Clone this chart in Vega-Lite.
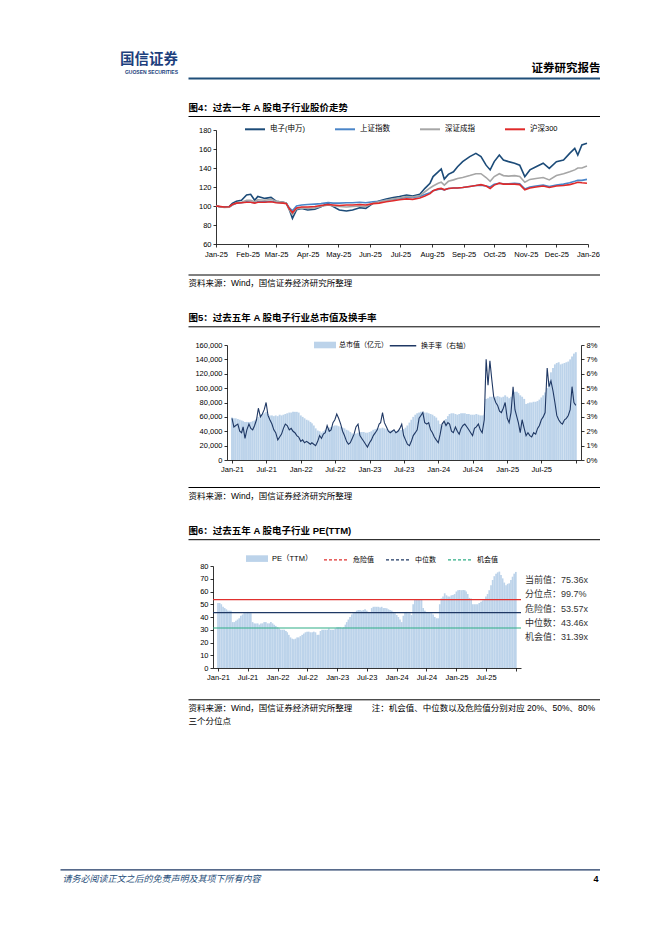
{
"$schema": "https://vega.github.io/schema/vega-lite/v6.json",
"background": "white",
"padding": {"left": 60, "top": 51, "right": 0, "bottom": 0},
"spacing": 0,
"resolve": {"scale": {"color": "independent", "fill": "independent", "stroke": "independent"}, "legend": {"color": "independent", "fill": "independent", "stroke": "independent"}},
"config": {
  "view": {"stroke": null},
  "font": "Liberation Sans, Noto Sans CJK SC",
  "axis": {"labelFont": "Liberation Sans, Noto Sans CJK SC", "labelFontSize": 7.5, "labelColor": "#000", "domainColor": "#000", "domainWidth": 0.8, "tickColor": "#000", "tickSize": 3, "tickWidth": 0.8, "labelPadding": 2, "grid": false, "titleFont": "Liberation Sans, Noto Sans CJK SC", "titleColor": "#000", "titleFontWeight": "normal"},
  "legend": {"labelFont": "Liberation Sans, Noto Sans CJK SC", "labelColor": "#000", "padding": 0, "labelFontSize": 7},
  "title": {"font": "Liberation Sans, Noto Sans CJK SC"}
},
"datasets": {
"c1": [
{"d":"2025/01/01","电子(申万)":100,"上证指数":100,"深证成指":100,"沪深300":100},
{"d":"2025/01/04","电子(申万)":99.5,"上证指数":99.5,"深证成指":99.5,"沪深300":99.6},
{"d":"2025/01/09","电子(申万)":99,"上证指数":98.8,"深证成指":98.5,"沪深300":99},
{"d":"2025/01/14","电子(申万)":99.5,"上证指数":99,"深证成指":98.7,"沪深300":99.2},
{"d":"2025/01/17","电子(申万)":102.8,"上证指数":101,"深证成指":101,"沪深300":101.5},
{"d":"2025/01/21","电子(申万)":105,"上证指数":103,"深证成指":103.5,"沪深300":103},
{"d":"2025/01/26","电子(申万)":106,"上证指数":103.5,"深证成指":104,"沪深300":103.5},
{"d":"2025/01/31","电子(申万)":111.6,"上证指数":104.5,"深证成指":106,"沪深300":104},
{"d":"2025/02/04","电子(申万)":112.3,"上证指数":104,"深证成指":106,"沪深300":104},
{"d":"2025/02/08","电子(申万)":106,"上证指数":103.5,"深证成指":104.5,"沪深300":103},
{"d":"2025/02/11","电子(申万)":110,"上证指数":104.5,"深证成指":106.5,"沪深300":104},
{"d":"2025/02/18","电子(申万)":108,"上证指数":104.5,"深证成指":106,"沪深300":104},
{"d":"2025/02/24","电子(申万)":109,"上证指数":105,"深证成指":107,"沪深300":104.5},
{"d":"2025/03/01","电子(申万)":105,"上证指数":104,"深证成指":105,"沪深300":103.5},
{"d":"2025/03/08","电子(申万)":104,"上证指数":103.5,"深证成指":104,"沪深300":103},
{"d":"2025/03/11","电子(申万)":103,"上证指数":103,"深证成指":103,"沪深300":102.5},
{"d":"2025/03/14","电子(申万)":96,"上证指数":98,"深证成指":96,"沪深300":97},
{"d":"2025/03/17","电子(申万)":87,"上证指数":95,"深证成指":91,"沪深300":93},
{"d":"2025/03/21","电子(申万)":96,"上证指数":100,"深证成指":97,"沪深300":98},
{"d":"2025/03/26","电子(申万)":97.5,"上证指数":101,"深证成指":98,"沪深300":99},
{"d":"2025/04/01","电子(申万)":95.8,"上证指数":101.5,"深证成指":97.5,"沪深300":99},
{"d":"2025/04/08","电子(申万)":96.5,"上证指数":102,"深证成指":98,"沪深300":99.5},
{"d":"2025/04/14","电子(申万)":99.3,"上证指数":102.5,"深证成指":99.5,"沪深300":100.5},
{"d":"2025/04/21","电子(申万)":102.8,"上证指数":103.5,"深证成指":101,"沪深300":101.5},
{"d":"2025/04/26","电子(申万)":99.3,"上证指数":103,"深证成指":100,"沪深300":101},
{"d":"2025/05/02","电子(申万)":95.8,"上证指数":103,"深证成指":99.5,"沪深300":100.5},
{"d":"2025/05/09","电子(申万)":94.7,"上证指数":103.5,"深证成指":99,"沪深300":101},
{"d":"2025/05/15","电子(申万)":95.8,"上证指数":103.5,"深证成指":99.5,"沪深300":101},
{"d":"2025/05/22","电子(申万)":98.2,"上证指数":104,"深证成指":100,"沪深300":101.5},
{"d":"2025/05/28","电子(申万)":97.5,"上证指数":103.5,"深证成指":99.5,"沪深300":101},
{"d":"2025/06/04","电子(申万)":102.8,"上证指数":104.5,"深证成指":103,"沪深300":102.5},
{"d":"2025/06/10","电子(申万)":105.3,"上证指数":105,"深证成指":104.5,"沪深300":103},
{"d":"2025/06/17","电子(申万)":107.4,"上证指数":106,"深证成指":106,"沪深300":104.5},
{"d":"2025/06/24","电子(申万)":108.8,"上证指数":107,"深证成指":107.5,"沪深300":105.5},
{"d":"2025/06/30","电子(申万)":110,"上证指数":108,"深证成指":108.5,"沪深300":106.5},
{"d":"2025/07/07","电子(申万)":111.6,"上证指数":109,"深证成指":110,"沪深300":107.5},
{"d":"2025/07/13","电子(申万)":110.5,"上证指数":109,"深证成指":109.5,"沪深300":107},
{"d":"2025/07/20","电子(申万)":112.3,"上证指数":110,"深证成指":111,"沪深300":108.5},
{"d":"2025/07/25","电子(申万)":118.6,"上证指数":112,"深证成指":115,"沪深300":110.5},
{"d":"2025/07/30","电子(申万)":124,"上证指数":114,"深证成指":119,"沪深300":113},
{"d":"2025/08/02","电子(申万)":131,"上证指数":116,"深证成指":121,"沪深300":116},
{"d":"2025/08/07","电子(申万)":136,"上证指数":117.5,"深证成指":124,"沪深300":118},
{"d":"2025/08/10","电子(申万)":139,"上证指数":118,"深证成指":125,"沪深300":118.5},
{"d":"2025/08/13","电子(申万)":128.4,"上证指数":117,"深证成指":122,"沪深300":117},
{"d":"2025/08/17","电子(申万)":133.3,"上证指数":118.5,"深证成指":126,"沪深300":118.5},
{"d":"2025/08/22","电子(申万)":136,"上证指数":119,"深证成指":127.5,"沪深300":119},
{"d":"2025/08/26","电子(申万)":141.4,"上证指数":119,"深证成指":129,"沪深300":119},
{"d":"2025/08/31","电子(申万)":146.7,"上证指数":119.5,"深证成指":130,"沪深300":119.5},
{"d":"2025/09/07","电子(申万)":152,"上证指数":120.5,"深证成指":132,"沪深300":120.5},
{"d":"2025/09/13","电子(申万)":155.4,"上证指数":121.5,"深证成指":134,"沪深300":121.5},
{"d":"2025/09/18","电子(申万)":152,"上证指数":122,"深证成指":134,"沪深300":122.5},
{"d":"2025/09/23","电子(申万)":143,"上证指数":121,"深证成指":130,"沪深300":121},
{"d":"2025/09/27","电子(申万)":138,"上证指数":120,"深证成指":126,"沪深300":118.5},
{"d":"2025/10/01","电子(申万)":146.7,"上证指数":123,"深证成指":131,"沪深300":122},
{"d":"2025/10/06","电子(申万)":153.7,"上证指数":124,"深证成指":134,"沪深300":124},
{"d":"2025/10/10","电子(申万)":148.4,"上证指数":123.5,"深证成指":132,"沪深300":123},
{"d":"2025/10/15","电子(申万)":146.7,"上证指数":123.5,"深证成指":131.5,"沪深300":123},
{"d":"2025/10/21","电子(申万)":145,"上证指数":124,"深证成指":132,"沪深300":123},
{"d":"2025/10/26","电子(申万)":143,"上证指数":123.5,"深证成指":131,"沪深300":122.5},
{"d":"2025/10/31","电子(申万)":130.9,"上证指数":118,"深证成指":125,"沪深300":117},
{"d":"2025/11/05","电子(申万)":138,"上证指数":120,"深证成指":128,"沪深300":119},
{"d":"2025/11/11","电子(申万)":141.4,"上证指数":121,"深证成指":129,"沪深300":120},
{"d":"2025/11/18","电子(申万)":145,"上证指数":122,"深证成指":130,"沪深300":121},
{"d":"2025/11/24","电子(申万)":139.6,"上证指数":120.5,"深证成指":127.5,"沪深300":119.5},
{"d":"2025/12/01","电子(申万)":146.7,"上证指数":122,"深证成指":132,"沪深300":121},
{"d":"2025/12/08","电子(申万)":148.4,"上证指数":123,"深证成指":134,"沪深300":121.5},
{"d":"2025/12/14","电子(申万)":155.4,"上证指数":124.5,"深证成指":136,"沪深300":122.5},
{"d":"2025/12/19","电子(申万)":160.7,"上证指数":126,"深证成指":138,"沪深300":124},
{"d":"2025/12/22","电子(申万)":153.7,"上证指数":127,"深证成指":140,"沪深300":125},
{"d":"2025/12/26","电子(申万)":164.2,"上证指数":127,"深证成指":140,"沪深300":124.5},
{"d":"2025/12/31","电子(申万)":166,"上证指数":128,"深证成指":142,"沪深300":124}
],
"ts": [
{"d":"2021/01/01","m":59000,"t":2.9,"pe":51},{"d":"2021/01/11","m":58000,"t":2.3,"pe":51},{"d":"2021/01/21","m":58000,"t":2.4,"pe":50},
{"d":"2021/02/01","m":57000,"t":2.5,"pe":48},{"d":"2021/02/11","m":56000,"t":2.0,"pe":47},{"d":"2021/02/21","m":55000,"t":1.9,"pe":46},
{"d":"2021/03/01","m":54000,"t":2.3,"pe":45},{"d":"2021/03/11","m":53000,"t":1.5,"pe":45},{"d":"2021/03/21","m":53000,"t":2.1,"pe":45},
{"d":"2021/04/01","m":53000,"t":2.5,"pe":36},{"d":"2021/04/11","m":53000,"t":2.2,"pe":36},{"d":"2021/04/21","m":54000,"t":2.1,"pe":37},
{"d":"2021/05/01","m":55000,"t":2.4,"pe":38},{"d":"2021/05/11","m":57000,"t":2.8,"pe":39},{"d":"2021/05/21","m":60000,"t":3.6,"pe":41},
{"d":"2021/06/01","m":63000,"t":3.0,"pe":42},{"d":"2021/06/11","m":64000,"t":3.2,"pe":43},{"d":"2021/06/21","m":65000,"t":3.5,"pe":43},
{"d":"2021/07/01","m":67000,"t":4.0,"pe":44},{"d":"2021/07/11","m":64000,"t":3.1,"pe":43},{"d":"2021/07/21","m":62000,"t":2.8,"pe":43},
{"d":"2021/08/01","m":62000,"t":2.5,"pe":36},{"d":"2021/08/11","m":61000,"t":2.1,"pe":35},{"d":"2021/08/21","m":62000,"t":1.9,"pe":35},
{"d":"2021/09/01","m":61000,"t":1.4,"pe":35},{"d":"2021/09/11","m":63000,"t":1.6,"pe":34},{"d":"2021/09/21","m":62000,"t":1.8,"pe":35},
{"d":"2021/10/01","m":63000,"t":2.2,"pe":35},{"d":"2021/10/11","m":64000,"t":2.5,"pe":36},{"d":"2021/10/21","m":65000,"t":2.4,"pe":36},
{"d":"2021/11/01","m":66000,"t":2.1,"pe":35},{"d":"2021/11/11","m":66000,"t":2.2,"pe":35},{"d":"2021/11/21","m":67000,"t":2.0,"pe":36},
{"d":"2021/12/01","m":67000,"t":1.9,"pe":35},{"d":"2021/12/11","m":67000,"t":1.7,"pe":34},{"d":"2021/12/21","m":66000,"t":1.6,"pe":33},
{"d":"2022/01/01","m":62000,"t":1.3,"pe":32},{"d":"2022/01/11","m":60000,"t":1.4,"pe":31},{"d":"2022/01/21","m":58000,"t":1.2,"pe":30},
{"d":"2022/02/01","m":56000,"t":1.3,"pe":30},{"d":"2022/02/11","m":55000,"t":1.2,"pe":30},{"d":"2022/02/21","m":53000,"t":1.1,"pe":29},
{"d":"2022/03/01","m":51000,"t":1.2,"pe":28},{"d":"2022/03/11","m":48000,"t":1.1,"pe":26},{"d":"2022/03/21","m":44000,"t":1.0,"pe":24},
{"d":"2022/04/01","m":41000,"t":1.3,"pe":23},{"d":"2022/04/11","m":40000,"t":1.7,"pe":22.5},{"d":"2022/04/21","m":38000,"t":1.5,"pe":23},
{"d":"2022/05/01","m":40000,"t":1.8,"pe":24},{"d":"2022/05/11","m":42000,"t":1.9,"pe":24},{"d":"2022/05/21","m":44000,"t":2.4,"pe":25},
{"d":"2022/06/01","m":45000,"t":2.0,"pe":26},{"d":"2022/06/11","m":46000,"t":2.1,"pe":27},{"d":"2022/06/21","m":47000,"t":2.6,"pe":28},
{"d":"2022/07/01","m":48000,"t":2.8,"pe":28.5},{"d":"2022/07/11","m":48000,"t":3.2,"pe":28.5},{"d":"2022/07/21","m":47000,"t":2.9,"pe":28},
{"d":"2022/08/01","m":46000,"t":2.5,"pe":28},{"d":"2022/08/11","m":45000,"t":2.0,"pe":28.5},{"d":"2022/08/21","m":44000,"t":1.7,"pe":28},
{"d":"2022/09/01","m":42000,"t":1.3,"pe":26},{"d":"2022/09/11","m":41000,"t":1.1,"pe":26},{"d":"2022/09/21","m":39000,"t":1.2,"pe":29},
{"d":"2022/10/01","m":37000,"t":1.5,"pe":30},{"d":"2022/10/11","m":36000,"t":1.8,"pe":30},{"d":"2022/10/21","m":37000,"t":2.3,"pe":30},
{"d":"2022/11/01","m":38000,"t":2.5,"pe":30},{"d":"2022/11/11","m":39000,"t":1.7,"pe":31},{"d":"2022/11/21","m":39000,"t":1.5,"pe":30},
{"d":"2022/12/01","m":39000,"t":1.3,"pe":30},{"d":"2022/12/11","m":38000,"t":1.1,"pe":30},{"d":"2022/12/21","m":38000,"t":0.9,"pe":31},
{"d":"2023/01/01","m":39000,"t":1.2,"pe":32},{"d":"2023/01/11","m":40000,"t":1.4,"pe":32},{"d":"2023/01/21","m":42000,"t":1.7,"pe":32},
{"d":"2023/02/01","m":43000,"t":1.9,"pe":31.6},{"d":"2023/02/11","m":44000,"t":2.1,"pe":32},{"d":"2023/02/21","m":44000,"t":2.5,"pe":34},
{"d":"2023/03/01","m":44000,"t":2.6,"pe":36},{"d":"2023/03/11","m":45000,"t":3.3,"pe":38},{"d":"2023/03/21","m":44000,"t":2.6,"pe":40},
{"d":"2023/04/01","m":43000,"t":2.3,"pe":42},{"d":"2023/04/11","m":42000,"t":2.0,"pe":43},{"d":"2023/04/21","m":41000,"t":1.9,"pe":44},
{"d":"2023/05/01","m":41000,"t":2.0,"pe":45},{"d":"2023/05/11","m":41000,"t":2.1,"pe":45.5},{"d":"2023/05/21","m":40000,"t":1.9,"pe":45.5},
{"d":"2023/06/01","m":41000,"t":2.0,"pe":45},{"d":"2023/06/11","m":42000,"t":2.2,"pe":45.5},{"d":"2023/06/21","m":42000,"t":2.5,"pe":46},
{"d":"2023/07/01","m":43000,"t":1.7,"pe":45},{"d":"2023/07/11","m":45000,"t":1.4,"pe":44},{"d":"2023/07/21","m":48000,"t":1.1,"pe":44},
{"d":"2023/08/01","m":52000,"t":1.0,"pe":47},{"d":"2023/08/11","m":56000,"t":1.3,"pe":48},{"d":"2023/08/21","m":60000,"t":1.7,"pe":48},
{"d":"2023/09/01","m":63000,"t":1.9,"pe":48},{"d":"2023/09/11","m":65000,"t":2.1,"pe":48},{"d":"2023/09/21","m":66000,"t":2.9,"pe":47.5},
{"d":"2023/10/01","m":67000,"t":3.1,"pe":48},{"d":"2023/10/11","m":67000,"t":3.3,"pe":47},{"d":"2023/10/21","m":66000,"t":2.6,"pe":47},
{"d":"2023/11/01","m":66000,"t":2.5,"pe":46.8},{"d":"2023/11/11","m":65000,"t":2.6,"pe":46},{"d":"2023/11/21","m":64000,"t":2.1,"pe":45.5},
{"d":"2023/12/01","m":63000,"t":1.9,"pe":45},{"d":"2023/12/11","m":61000,"t":1.6,"pe":44},{"d":"2023/12/21","m":59000,"t":1.4,"pe":43},
{"d":"2024/01/01","m":55000,"t":1.2,"pe":41.6},{"d":"2024/01/11","m":50000,"t":1.8,"pe":40},{"d":"2024/01/21","m":48000,"t":2.5,"pe":38},
{"d":"2024/02/01","m":52000,"t":2.7,"pe":36},{"d":"2024/02/11","m":57000,"t":2.4,"pe":41},{"d":"2024/02/21","m":61000,"t":2.6,"pe":44},
{"d":"2024/03/01","m":64000,"t":2.5,"pe":44},{"d":"2024/03/11","m":65000,"t":2.0,"pe":43},{"d":"2024/03/21","m":65000,"t":1.9,"pe":43},
{"d":"2024/04/01","m":64000,"t":2.3,"pe":41.5},{"d":"2024/04/11","m":63000,"t":2.0,"pe":50},{"d":"2024/04/21","m":64000,"t":1.8,"pe":54},
{"d":"2024/05/01","m":65000,"t":2.2,"pe":54},{"d":"2024/05/11","m":65000,"t":2.4,"pe":54},{"d":"2024/05/21","m":65000,"t":2.5,"pe":53.5},
{"d":"2024/06/01","m":64000,"t":2.3,"pe":54},{"d":"2024/06/11","m":64000,"t":2.1,"pe":47},{"d":"2024/06/21","m":63000,"t":1.9,"pe":45},
{"d":"2024/07/01","m":63000,"t":1.7,"pe":44},{"d":"2024/07/11","m":63000,"t":2.2,"pe":44},{"d":"2024/07/21","m":64000,"t":2.3,"pe":43.5},
{"d":"2024/08/01","m":63000,"t":2.5,"pe":43},{"d":"2024/08/11","m":62000,"t":2.1,"pe":42},{"d":"2024/08/21","m":62000,"t":1.9,"pe":40},
{"d":"2024/09/01","m":63000,"t":2.8,"pe":39},{"d":"2024/09/11","m":85000,"t":7.0,"pe":39},{"d":"2024/09/21","m":86000,"t":5.2,"pe":50},
{"d":"2024/10/01","m":88000,"t":6.9,"pe":54.6},{"d":"2024/10/11","m":88000,"t":5.6,"pe":56},{"d":"2024/10/21","m":87000,"t":4.4,"pe":58.6},
{"d":"2024/11/01","m":88000,"t":4.0,"pe":57},{"d":"2024/11/11","m":89000,"t":3.8,"pe":56},{"d":"2024/11/21","m":88000,"t":3.4,"pe":56},
{"d":"2024/12/01","m":87000,"t":3.3,"pe":57},{"d":"2024/12/11","m":88000,"t":3.6,"pe":57.3},{"d":"2024/12/21","m":90000,"t":4.0,"pe":58},
{"d":"2025/01/01","m":88000,"t":2.9,"pe":60},{"d":"2025/01/11","m":86000,"t":2.6,"pe":61},{"d":"2025/01/21","m":88000,"t":3.3,"pe":61.2},
{"d":"2025/02/01","m":92000,"t":5.1,"pe":61},{"d":"2025/02/11","m":95000,"t":3.5,"pe":61.2},{"d":"2025/02/21","m":95000,"t":3.0,"pe":61},
{"d":"2025/03/01","m":93000,"t":2.6,"pe":60},{"d":"2025/03/11","m":90000,"t":1.9,"pe":58},{"d":"2025/03/21","m":88000,"t":2.8,"pe":55},
{"d":"2025/04/01","m":85000,"t":2.2,"pe":54.6},{"d":"2025/04/11","m":78000,"t":1.7,"pe":50},{"d":"2025/04/21","m":79000,"t":1.9,"pe":50},
{"d":"2025/05/01","m":80000,"t":1.7,"pe":50},{"d":"2025/05/11","m":80000,"t":1.6,"pe":50},{"d":"2025/05/21","m":81000,"t":1.9,"pe":51},
{"d":"2025/06/01","m":81000,"t":1.8,"pe":52},{"d":"2025/06/11","m":82000,"t":2.2,"pe":53},{"d":"2025/06/21","m":84000,"t":2.4,"pe":54},
{"d":"2025/07/01","m":87000,"t":2.8,"pe":56},{"d":"2025/07/11","m":90000,"t":3.0,"pe":58},{"d":"2025/07/21","m":94000,"t":3.3,"pe":61},
{"d":"2025/08/01","m":100000,"t":6.4,"pe":65},{"d":"2025/08/11","m":110000,"t":5.1,"pe":69},{"d":"2025/08/21","m":122000,"t":5.5,"pe":72},
{"d":"2025/09/01","m":128000,"t":4.8,"pe":74},{"d":"2025/09/11","m":133000,"t":4.0,"pe":75},{"d":"2025/09/21","m":135000,"t":3.1,"pe":75.6},
{"d":"2025/10/01","m":136000,"t":2.8,"pe":73},{"d":"2025/10/11","m":133000,"t":2.6,"pe":70.3},{"d":"2025/10/21","m":134000,"t":2.5,"pe":67},
{"d":"2025/11/01","m":135000,"t":2.8,"pe":65},{"d":"2025/11/11","m":136000,"t":2.9,"pe":66},{"d":"2025/11/21","m":137000,"t":3.1,"pe":66.4},
{"d":"2025/12/01","m":140000,"t":3.5,"pe":69},{"d":"2025/12/11","m":144000,"t":5.1,"pe":71.6},{"d":"2025/12/21","m":148000,"t":4.0,"pe":74},
{"d":"2025/12/31","m":150000,"t":3.8,"pe":75.36}
]
},
"vconcat": [
{"hconcat": [
  {"width": 118, "height": 1, "data": {"values": [{}]}, "mark": {"type": "point", "size": 0, "strokeWidth": 0, "opacity": 0}, "encoding": {},
   "title": {"text": "国信证券", "subtitle": "GUOSEN SECURITIES", "anchor": "end", "fontSize": 14.5, "fontWeight": "bold", "color": "#1d3f7d", "subtitleFontSize": 5, "subtitleFontWeight": "bold", "subtitleColor": "#1d3f7d", "subtitlePadding": 3, "offset": 2, "font": "Liberation Sans, Noto Sans CJK SC", "subtitleFont": "Liberation Sans, Noto Sans CJK SC"}},
  {"width": 412, "height": 10, "data": {"values": [{}]}, "mark": {"type": "point", "size": 0, "strokeWidth": 0, "opacity": 0},
   "encoding": {"x": {"datum": 0, "type": "quantitative", "scale": {"domain": [0, 1]}, "axis": {"orient": "top", "domain": true, "domainColor": "#1f4e79", "domainWidth": 2, "labels": false, "ticks": false, "title": "证券研究报告", "titleX": 412, "titleY": -4.5, "titleAlign": "right", "titleBaseline": "bottom", "titleFontSize": 11.5, "titleFontWeight": "bold", "titleColor": "#000"}}}}
 ], "spacing": 10},
{"hconcat": [
  {"width": 128, "height": 1, "data": {"values": [{}]}, "mark": {"type": "point", "size": 0, "strokeWidth": 0, "opacity": 0}, "encoding": {}},
  {"width": 412, "height": 29.3, "data": {"values": [{}]}, "mark": {"type": "point", "size": 0, "strokeWidth": 0, "opacity": 0},
   "encoding": {"x": {"datum": 0, "type": "quantitative", "scale": {"domain": [0, 1]}, "axis": {"orient": "bottom", "offset": -1.3, "domain": true, "domainWidth": 1, "labels": false, "ticks": false, "title": "图4：过去一年 A 股电子行业股价走势", "titleX": 0, "titleY": -3.5, "titleAlign": "left", "titleBaseline": "bottom", "titleFontSize": 9.5, "titleFontWeight": "bold"}}}}
 ], "spacing": 0},
{"hconcat": [
  {"width": 137.5, "height": 1, "data": {"values": [{}]}, "mark": {"type": "point", "size": 0, "strokeWidth": 0, "opacity": 0}, "encoding": {}},
  {"width": 372, "height": 114,
   "data": {"name": "c1"},
   "transform": [{"fold": ["电子(申万)", "上证指数", "深证成指", "沪深300"], "as": ["series", "value"]}],
   "mark": {"type": "line", "strokeWidth": 1.6},
   "encoding": {
     "x": {"field": "d", "type": "temporal", "scale": {"domain": [{"year": 2025, "month": 1, "date": 1}, {"year": 2026, "month": 1, "date": 1}]},
           "axis": {"title": null, "format": "%b-%y", "labelPadding": 3, "labelFlush": false, "labelOverlap": false,
                    "values": [{"year": 2025, "month": 1, "date": 1}, {"year": 2025, "month": 2, "date": 1}, {"year": 2025, "month": 3, "date": 1}, {"year": 2025, "month": 4, "date": 1}, {"year": 2025, "month": 5, "date": 1}, {"year": 2025, "month": 6, "date": 1}, {"year": 2025, "month": 7, "date": 1}, {"year": 2025, "month": 8, "date": 1}, {"year": 2025, "month": 9, "date": 1}, {"year": 2025, "month": 10, "date": 1}, {"year": 2025, "month": 11, "date": 1}, {"year": 2025, "month": 12, "date": 1}, {"year": 2026, "month": 1, "date": 1}]}},
     "y": {"field": "value", "type": "quantitative", "scale": {"domain": [60, 180]}, "axis": {"title": null, "values": [60, 80, 100, 120, 140, 160, 180]}},
     "color": {"field": "series", "type": "nominal", "sort": ["电子(申万)", "上证指数", "深证成指", "沪深300"],
               "scale": {"domain": ["电子(申万)", "上证指数", "深证成指", "沪深300"], "range": ["#1c4b78", "#4a85c8", "#a6a6a6", "#e02a2a"]},
               "legend": {"orient": "none", "legendX": 28, "legendY": -11.7, "direction": "horizontal", "columns": 4, "title": null, "symbolType": "stroke", "symbolSize": 400, "symbolStrokeWidth": 2, "labelFontSize": 7.5, "columnPadding": 26, "labelOffset": 4}}
   }}
 ], "spacing": 0, "resolve": {"scale": {"color": "independent"}, "legend": {"color": "independent"}}},
{"hconcat": [
  {"width": 128, "height": 1, "data": {"values": [{}]}, "mark": {"type": "point", "size": 0, "strokeWidth": 0, "opacity": 0}, "encoding": {}},
  {"width": 412, "height": 16.5, "data": {"values": [{}]}, "mark": {"type": "point", "size": 0, "strokeWidth": 0, "opacity": 0},
   "encoding": {"x": {"datum": 0, "type": "quantitative", "scale": {"domain": [0, 1]}, "axis": {"orient": "bottom", "domain": true, "domainWidth": 1, "labels": false, "ticks": false, "title": "资料来源：Wind，国信证券经济研究所整理", "titleX": 0, "titleY": 4, "titleAlign": "left", "titleBaseline": "top", "titleFontSize": 8.5}}}}
 ], "spacing": 0},
{"hconcat": [
  {"width": 128, "height": 1, "data": {"values": [{}]}, "mark": {"type": "point", "size": 0, "strokeWidth": 0, "opacity": 0}, "encoding": {}},
  {"width": 412, "height": 43.05, "data": {"values": [{}]}, "mark": {"type": "point", "size": 0, "strokeWidth": 0, "opacity": 0},
   "encoding": {"x": {"datum": 0, "type": "quantitative", "scale": {"domain": [0, 1]}, "axis": {"orient": "bottom", "offset": -3.75, "domain": true, "domainWidth": 1, "labels": false, "ticks": false, "title": "图5：过去五年 A 股电子行业总市值及换手率", "titleX": 0, "titleY": -3.5, "titleAlign": "left", "titleBaseline": "bottom", "titleFontSize": 9.5, "titleFontWeight": "bold"}}}}
 ], "spacing": 0},
{"hconcat": [
  {"width": 134, "height": 1, "data": {"values": [{}]}, "mark": {"type": "point", "size": 0, "strokeWidth": 0, "opacity": 0}, "encoding": {}},
  {"width": 354, "height": 115,
   "data": {"name": "ts"},
   "encoding": {
     "x": {"field": "d", "type": "temporal", "scale": {"domain": [{"year": 2021, "month": 1, "date": 1}, {"year": 2026, "month": 1, "date": 1}]},
           "axis": {"title": null, "format": "%b-%y", "labelFlush": false, "labelOverlap": false, "labelExpr": "datum.label == 'Jan-26' ? '' : datum.label",
                    "values": [{"year": 2021, "month": 1, "date": 1}, {"year": 2021, "month": 7, "date": 1}, {"year": 2022, "month": 1, "date": 1}, {"year": 2022, "month": 7, "date": 1}, {"year": 2023, "month": 1, "date": 1}, {"year": 2023, "month": 7, "date": 1}, {"year": 2024, "month": 1, "date": 1}, {"year": 2024, "month": 7, "date": 1}, {"year": 2025, "month": 1, "date": 1}, {"year": 2025, "month": 7, "date": 1}, {"year": 2026, "month": 1, "date": 1}]}}
   },
   "layer": [
     {"mark": {"type": "bar", "width": 1.9},
      "encoding": {
        "y": {"field": "m", "type": "quantitative", "scale": {"domain": [0, 160000]}, "axis": {"title": null, "format": ",d", "values": [0, 20000, 40000, 60000, 80000, 100000, 120000, 140000, 160000]}},
        "fill": {"datum": "总市值（亿元）", "type": "nominal", "scale": {"range": ["#bcd3ea"]},
                 "legend": {"orient": "none", "legendX": 87, "legendY": -11, "title": null, "symbolType": "M-1,-0.3H1V0.3H-1Z", "symbolSize": 484, "symbolStrokeWidth": 0, "labelOffset": 3, "labelFontSize": 7}}
      }},
     {"mark": {"type": "line", "strokeWidth": 1.1},
      "encoding": {
        "y": {"field": "t", "type": "quantitative", "scale": {"domain": [0, 8]}, "axis": {"orient": "right", "title": null, "values": [0, 1, 2, 3, 4, 5, 6, 7, 8], "labelExpr": "datum.value + '%'"}},
        "stroke": {"datum": "换手率（右轴）", "type": "nominal", "scale": {"range": ["#1f3864"]},
                   "legend": {"orient": "none", "legendX": 162, "legendY": -13.25, "title": null, "symbolType": "stroke", "symbolSize": 700, "symbolStrokeWidth": 1.5, "labelOffset": 4, "labelFontSize": 7}}
      }}
   ],
   "resolve": {"scale": {"y": "independent", "fill": "independent", "stroke": "independent"}}}
 ], "spacing": 0, "resolve": {"scale": {"fill": "independent", "stroke": "independent"}, "legend": {"fill": "independent", "stroke": "independent"}}},
{"hconcat": [
  {"width": 128, "height": 1, "data": {"values": [{}]}, "mark": {"type": "point", "size": 0, "strokeWidth": 0, "opacity": 0}, "encoding": {}},
  {"width": 412, "height": 14, "data": {"values": [{}]}, "mark": {"type": "point", "size": 0, "strokeWidth": 0, "opacity": 0},
   "encoding": {"x": {"datum": 0, "type": "quantitative", "scale": {"domain": [0, 1]}, "axis": {"orient": "bottom", "domain": true, "domainWidth": 1, "labels": false, "ticks": false, "title": "资料来源：Wind，国信证券经济研究所整理", "titleX": 0, "titleY": 4, "titleAlign": "left", "titleBaseline": "top", "titleFontSize": 8.5}}}}
 ], "spacing": 0},
{"hconcat": [
  {"width": 128, "height": 1, "data": {"values": [{}]}, "mark": {"type": "point", "size": 0, "strokeWidth": 0, "opacity": 0}, "encoding": {}},
  {"width": 412, "height": 46.1, "data": {"values": [{}]}, "mark": {"type": "point", "size": 0, "strokeWidth": 0, "opacity": 0},
   "encoding": {"x": {"datum": 0, "type": "quantitative", "scale": {"domain": [0, 1]}, "axis": {"orient": "bottom", "offset": -6.9, "domain": true, "domainWidth": 1, "labels": false, "ticks": false, "title": "图6：过去五年 A 股电子行业 PE(TTM)", "titleX": 0, "titleY": -3.5, "titleAlign": "left", "titleBaseline": "bottom", "titleFontSize": 9.5, "titleFontWeight": "bold"}}}}
 ], "spacing": 0},
{"hconcat": [
  {"width": 138.7, "height": 1, "data": {"values": [{}]}, "mark": {"type": "point", "size": 0, "strokeWidth": 0, "opacity": 0}, "encoding": {}},
  {"width": 308, "height": 102,
   "layer": [
     {"data": {"name": "ts"},
      "mark": {"type": "bar", "width": 1.7},
      "encoding": {
        "x": {"field": "d", "type": "temporal", "scale": {"domain": [{"year": 2021, "month": 1, "date": 1}, {"year": 2026, "month": 1, "date": 1}]},
              "axis": {"title": null, "format": "%b-%y", "labelFlush": false, "labelOverlap": false, "labelExpr": "datum.label == 'Jan-26' ? '' : datum.label",
                       "values": [{"year": 2021, "month": 1, "date": 1}, {"year": 2021, "month": 7, "date": 1}, {"year": 2022, "month": 1, "date": 1}, {"year": 2022, "month": 7, "date": 1}, {"year": 2023, "month": 1, "date": 1}, {"year": 2023, "month": 7, "date": 1}, {"year": 2024, "month": 1, "date": 1}, {"year": 2024, "month": 7, "date": 1}, {"year": 2025, "month": 1, "date": 1}, {"year": 2025, "month": 7, "date": 1}, {"year": 2026, "month": 1, "date": 1}]}},
        "y": {"field": "pe", "type": "quantitative", "scale": {"domain": [0, 80]}, "axis": {"title": null, "values": [0, 10, 20, 30, 40, 50, 60, 70, 80]}},
        "fill": {"datum": "PE（TTM）", "type": "nominal", "scale": {"range": ["#bcd3ea"]},
                 "legend": {"orient": "none", "legendX": 33, "legendY": -18.4, "title": null, "symbolType": "M-1,-0.3H1V0.3H-1Z", "symbolSize": 484, "symbolStrokeWidth": 0, "labelOffset": 4, "labelFontSize": 7.5}}
      }},
     {"data": {"values": [{"name": "危险值", "v": 53.57}, {"name": "中位数", "v": 43.46}, {"name": "机会值", "v": 31.39}]},
      "mark": {"type": "rule", "strokeWidth": 1.2},
      "encoding": {
        "y": {"field": "v", "type": "quantitative", "scale": {"domain": [0, 80]}, "axis": null},
        "stroke": {"field": "name", "type": "nominal", "sort": ["危险值", "中位数", "机会值"], "scale": {"domain": ["危险值", "中位数", "机会值"], "range": ["#e0302e", "#1f3864", "#2fae85"]},
                   "legend": {"orient": "none", "legendX": 110, "legendY": -18.9, "direction": "horizontal", "columns": 3, "title": null, "symbolType": "stroke", "symbolSize": 529, "symbolStrokeWidth": 1.2, "symbolDash": [3, 2], "labelOffset": 5, "labelFontSize": 7, "columnPadding": 9}}
      }},
     {"data": {"values": [{"label": "当前值：75.36x"}, {"label": "分位点：99.7%"}, {"label": "危险值：53.57x"}, {"label": "中位数：43.46x"}, {"label": "机会值：31.39x"}]},
      "mark": {"type": "text", "align": "left", "baseline": "middle", "dx": 9, "fontSize": 9, "color": "#333"},
      "encoding": {
        "x": {"datum": {"year": 2026, "month": 1, "date": 1}, "type": "temporal",
              "axis": {"title": null, "format": "%b-%y", "labelFlush": false, "labelOverlap": false, "labelExpr": "datum.label == 'Jan-26' ? '' : datum.label",
                       "values": [{"year": 2021, "month": 1, "date": 1}, {"year": 2021, "month": 7, "date": 1}, {"year": 2022, "month": 1, "date": 1}, {"year": 2022, "month": 7, "date": 1}, {"year": 2023, "month": 1, "date": 1}, {"year": 2023, "month": 7, "date": 1}, {"year": 2024, "month": 1, "date": 1}, {"year": 2024, "month": 7, "date": 1}, {"year": 2025, "month": 1, "date": 1}, {"year": 2025, "month": 7, "date": 1}, {"year": 2026, "month": 1, "date": 1}]}},
        "y": {"field": "label", "type": "ordinal", "scale": {"type": "point", "domain": ["当前值：75.36x", "分位点：99.7%", "危险值：53.57x", "中位数：43.46x", "机会值：31.39x"], "range": [14, 71], "padding": 0}, "axis": null},
        "text": {"field": "label"}
      }}
   ],
   "resolve": {"scale": {"y": "independent", "fill": "independent", "stroke": "independent"}}}
 ], "spacing": 0, "resolve": {"scale": {"fill": "independent", "stroke": "independent"}, "legend": {"fill": "independent", "stroke": "independent"}}},
{"hconcat": [
  {"width": 128, "height": 1, "data": {"values": [{}]}, "mark": {"type": "point", "size": 0, "strokeWidth": 0, "opacity": 0}, "encoding": {}},
  {"width": 412, "height": 18.3, "data": {"values": [{}]}, "mark": {"type": "point", "size": 0, "strokeWidth": 0, "opacity": 0},
   "encoding": {"x": {"datum": 0, "type": "quantitative", "scale": {"domain": [0, 1]}, "axis": {"orient": "bottom", "domain": true, "domainWidth": 1, "labels": false, "ticks": false, "title": ["资料来源：Wind，国信证券经济研究所整理　　 注：机会值、中位数以及危险值分别对应 20%、50%、80%", "三个分位点"], "titleX": 0, "titleY": 4, "titleAlign": "left", "titleBaseline": "top", "titleFontSize": 8.5, "titleLineHeight": 13}}}}
 ], "spacing": 0},
{"width": 540, "height": 144.4, "data": {"values": [{}]}, "mark": {"type": "point", "size": 0, "strokeWidth": 0, "opacity": 0},
 "encoding": {
   "x": {"datum": 0, "type": "quantitative", "scale": {"domain": [0, 1]}, "axis": {"orient": "bottom", "domain": true, "domainColor": "#1f3864", "domainWidth": 1.2, "labels": false, "ticks": false, "title": "请务必阅读正文之后的免责声明及其项下所有内容", "titleX": 2, "titleY": 5, "titleAlign": "left", "titleBaseline": "top", "titleFontSize": 9, "titleFontStyle": "italic", "titleColor": "#1f4e79"}},
   "y": {"datum": 0, "type": "quantitative", "scale": {"domain": [0, 1]}, "axis": {"orient": "right", "domain": false, "labels": false, "ticks": false, "title": "4", "titleAngle": 0, "titleX": -2, "titleY": 149.4, "titleAlign": "right", "titleBaseline": "top", "titleFontSize": 9, "titleFontWeight": "bold"}}
 }}
]
}
